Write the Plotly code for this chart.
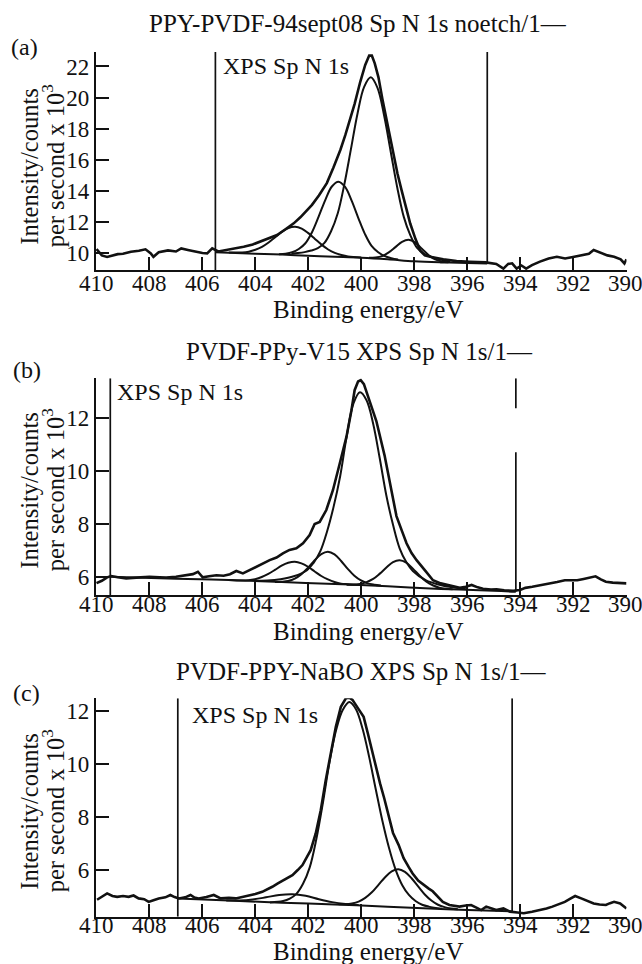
import plotly.graph_objects as go

FONT = "Liberation Serif, Times New Roman, serif"
BLACK = "#111111"

# ---------------- Panel (a) ----------------
a_raw_ev = [410.0, 409.8, 409.6, 409.4, 409.2, 409.0, 408.7, 408.4, 408.15, 407.95,
            407.85, 407.65, 407.3, 407.0, 406.8, 406.55, 406.3, 406.0, 405.82, 405.63,
            405.4, 405.07, 404.8, 404.44, 404.1, 403.81, 403.5, 403.18, 402.85, 402.55,
            402.3, 402.05, 401.86, 401.6, 401.3, 401.05, 400.79, 400.6, 400.42, 400.25,
            400.04, 399.85, 399.7, 399.6, 399.49, 399.35, 399.2, 398.94, 398.78, 398.63,
            398.47, 398.33, 398.15, 397.95, 397.77, 397.6, 397.4, 396.9, 396.4, 395.9,
            395.3, 394.9, 394.63, 394.45, 394.3, 394.13, 393.95, 393.77, 393.55, 393.25,
            392.92, 392.61, 392.3, 392.0, 391.68, 391.4, 391.22, 390.91, 390.7, 390.45,
            390.2, 390.06, 389.98]
a_raw_int = [10.25, 9.85, 9.75, 9.85, 9.93, 9.95, 10.08, 10.15, 10.24, 9.98,
             9.76, 10.05, 10.17, 10.1, 10.3, 10.2, 10.1, 10.0, 9.98, 10.3,
             10.1, 10.2, 10.3, 10.4, 10.55, 10.73, 10.95, 11.16, 11.55, 11.91,
             12.3, 12.77, 13.1, 13.7, 14.5, 15.5, 16.63, 17.6, 18.6, 19.6,
             21.0, 22.1, 22.7, 22.7, 22.2, 21.3, 19.9, 17.7, 16.3, 15.1,
             14.0, 13.0, 11.9, 10.9, 10.15, 9.85, 9.76, 9.6, 9.48, 9.44,
             9.4, 9.3, 9.0, 9.3, 9.34, 9.0, 9.2, 9.0, 9.22, 9.45,
             9.65, 9.76, 9.65, 9.75, 9.86, 9.95, 10.19, 9.97, 9.85, 9.76,
             9.6, 9.33, 9.6]
a_bg_ev = [405.5, 404.0, 403.0, 402.0, 401.0, 400.0, 399.0, 398.0, 397.0, 396.0, 395.24]
a_bg_int = [10.05, 9.96, 9.9, 9.82, 9.76, 9.7, 9.6, 9.47, 9.4, 9.36, 9.33]
a_c1_ev = [402.64, 402.39, 402.14, 401.89, 401.64, 401.39, 401.14, 400.89, 400.64, 400.39,
           400.14, 399.89, 399.64, 399.39, 399.14, 398.89, 398.64, 398.39, 398.14, 397.89,
           397.64, 397.39, 397.14, 396.89, 396.64]
a_c1_int = [9.96, 10.0, 10.06, 10.16, 10.31, 10.65, 11.4, 12.54, 14.41, 16.68,
            18.98, 20.69, 21.3, 20.64, 18.88, 16.55, 14.22, 12.31, 11.12, 10.33,
            9.97, 9.78, 9.64, 9.54, 9.47]
a_c2_ev = [403.11, 402.86, 402.61, 402.36, 402.11, 401.86, 401.61, 401.36, 401.11, 400.86,
           400.61, 400.36, 400.11, 399.86, 399.61, 399.36, 399.11, 398.86, 398.61]
a_c2_int = [9.93, 9.96, 10.05, 10.26, 10.63, 11.34, 12.34, 13.41, 14.28, 14.59,
            14.25, 13.35, 12.25, 11.22, 10.46, 10.05, 9.8, 9.67, 9.58]
a_c3_ev = [405.0, 404.5, 404.25, 404.0, 403.75, 403.5, 403.25, 403.0, 402.75, 402.5,
           402.25, 402.0, 401.75, 401.5, 401.25, 401.0, 400.75, 400.5, 400.0]
a_c3_int = [10.03, 10.04, 10.09, 10.21, 10.4, 10.68, 11.02, 11.36, 11.61, 11.69,
            11.57, 11.28, 10.91, 10.54, 10.23, 10.01, 9.87, 9.78, 9.71]
a_c4_ev = [399.71, 399.46, 399.21, 398.96, 398.71, 398.46, 398.21, 397.96, 397.71, 397.46,
           397.21, 396.96, 396.71]
a_c4_int = [9.69, 9.71, 9.8, 10.04, 10.38, 10.72, 10.85, 10.67, 10.28, 9.88,
            9.59, 9.46, 9.41]
a_mark_x = [405.51, 405.51, None, 395.24, 395.24]
a_mark_y = [8.91, 22.93, None, 9.35, 22.93]

# ---------------- Panel (b) ----------------
b_raw_ev = [410.0, 409.8, 409.6, 409.45, 409.2, 408.88, 408.5, 408.0, 407.62, 407.37,
            407.0, 406.74, 406.36, 406.17, 405.99, 405.75, 405.47, 405.2, 404.96, 404.72,
            404.47, 404.22, 403.96, 403.71, 403.46, 403.2, 402.96, 402.71, 402.45, 402.2,
            401.95, 401.76, 401.57, 401.32, 401.07, 400.81, 400.56, 400.37, 400.25, 400.12,
            400.02, 399.9, 399.7, 399.43, 399.12, 398.85, 398.67, 398.45, 398.29, 398.1,
            397.91, 397.6, 397.29, 397.0, 396.78, 396.5, 396.28, 396.05, 395.83, 395.6,
            395.4, 395.1, 394.89, 394.6, 394.26, 394.0, 393.8, 393.54, 393.2, 392.93,
            392.6, 392.31, 391.84, 391.6, 391.38, 391.15, 390.95, 390.76, 390.5, 390.3,
            389.98]
b_raw_int = [5.76, 5.85, 5.98, 6.03, 5.98, 5.94, 5.97, 6.0, 5.98, 5.97,
             6.0, 6.03, 6.1, 6.19, 5.98, 6.02, 6.06, 6.04, 6.1, 6.22,
             6.13, 6.25, 6.38, 6.53, 6.63, 6.73, 6.89, 7.02, 7.08, 7.27,
             7.58, 8.0, 8.08, 8.53, 9.28, 10.3, 11.3, 12.31, 13.07, 13.4,
             13.45, 13.3, 12.7, 11.9, 10.6, 9.2, 8.3, 7.7, 7.27, 6.9,
             6.63, 6.25, 5.87, 5.75, 5.69, 5.62, 5.58, 5.62, 5.69, 5.6,
             5.55, 5.52, 5.53, 5.49, 5.47, 5.5, 5.58, 5.62, 5.68, 5.75,
             5.8, 5.87, 5.87, 5.92, 5.97, 6.02, 5.9, 5.81, 5.78, 5.77,
             5.75]
b_bg_ev = [409.48, 407.0, 405.0, 403.0, 401.0, 399.0, 397.0, 395.0, 394.16]
b_bg_int = [6.0, 5.93, 5.88, 5.8, 5.73, 5.64, 5.54, 5.47, 5.43]
b_c1_ev = [404.05, 403.55, 403.05, 402.55, 402.05, 401.8, 401.55, 401.3, 401.05, 400.8,
           400.55, 400.3, 400.05, 399.8, 399.55, 399.3, 399.05, 398.8, 398.55, 398.3,
           398.05, 397.55, 397.05, 396.55, 396.05]
b_c1_int = [5.85, 5.86, 5.91, 6.02, 6.25, 6.53, 6.96, 7.69, 8.63, 9.79,
            11.32, 12.55, 12.99, 12.69, 11.8, 10.48, 9.07, 7.97, 7.08, 6.56,
            6.22, 5.86, 5.7, 5.6, 5.54]
b_c2_ev = [403.26, 403.01, 402.76, 402.51, 402.26, 402.01, 401.76, 401.51, 401.26, 401.01,
           400.76, 400.51, 400.26, 400.01, 399.76, 399.51, 399.26]
b_c2_int = [5.8, 5.81, 5.84, 5.93, 6.1, 6.34, 6.63, 6.86, 6.95, 6.85,
            6.6, 6.3, 6.04, 5.86, 5.75, 5.7, 5.67]
b_c3_ev = [405.01, 404.51, 404.26, 404.01, 403.76, 403.51, 403.26, 403.01, 402.76, 402.51,
           402.26, 402.01, 401.76, 401.51, 401.26, 401.01, 400.76, 400.51, 400.01]
b_c3_int = [5.88, 5.86, 5.87, 5.91, 5.99, 6.11, 6.26, 6.42, 6.53, 6.57,
            6.51, 6.38, 6.2, 6.03, 5.9, 5.8, 5.74, 5.72, 5.69]
b_c4_ev = [400.55, 400.3, 400.05, 399.8, 399.55, 399.3, 399.05, 398.8, 398.55, 398.3,
           398.05, 397.8, 397.55, 397.3, 397.05, 396.8, 396.55]
b_c4_int = [5.7, 5.7, 5.73, 5.8, 5.92, 6.12, 6.35, 6.56, 6.63, 6.54,
            6.31, 6.05, 5.82, 5.68, 5.59, 5.55, 5.53]
b_mark_x = [409.48, 409.48, None, 394.16, 394.16, None, 394.16, 394.16]
b_mark_y = [5.31, 13.52, None, 13.52, 12.39, None, 10.72, 5.43]

# ---------------- Panel (c) ----------------
c_raw_ev = [409.98, 409.8, 409.6, 409.4, 409.22, 409.0, 408.79, 408.6, 408.41, 408.2,
            408.03, 407.85, 407.65, 407.4, 407.21, 407.05, 406.89, 406.65, 406.45, 406.3,
            406.14, 405.85, 405.57, 405.31, 405.0, 404.74, 404.5, 404.24, 404.0, 403.74,
            403.55, 403.36, 403.15, 402.92, 402.6, 402.4, 402.22, 402.05, 401.91, 401.72,
            401.53, 401.34, 401.15, 400.96, 400.77, 400.58, 400.45, 400.33, 400.12, 399.91,
            399.75, 399.6, 399.45, 399.29, 399.13, 398.98, 398.8, 398.59, 398.4, 398.2,
            398.06, 397.85, 397.6, 397.45, 397.3, 397.1, 396.92, 396.67, 396.45, 396.29,
            396.05, 395.85, 395.65, 395.47, 395.28, 395.1, 394.9, 394.63, 394.38, 394.1,
            393.86, 393.55, 393.24, 393.0, 392.78, 392.55, 392.31, 392.1, 391.92, 391.69,
            391.45, 391.22, 391.0, 390.76, 390.6, 390.45, 390.22, 389.98]
c_raw_int = [4.88, 5.0, 5.12, 5.02, 4.99, 5.02, 4.99, 5.04, 4.93, 4.9,
             4.8, 4.86, 4.93, 4.97, 5.06, 4.98, 4.93, 4.97, 5.06, 4.96,
             4.93, 4.98, 5.06, 4.93, 4.95, 4.93, 4.98, 5.06, 5.1, 5.18,
             5.27, 5.37, 5.5, 5.62, 5.81, 6.0, 6.19, 6.5, 6.75, 7.38,
             8.26, 9.4, 10.4, 11.41, 12.16, 12.48, 12.5, 12.42, 12.1, 11.78,
             11.15, 10.53, 9.9, 9.27, 8.7, 8.14, 7.4, 6.95, 6.45, 6.1,
             5.87, 5.6, 5.4, 5.3, 5.2, 5.0, 4.8, 4.68, 4.64, 4.62,
             4.66, 4.68, 4.58, 4.49, 4.62, 4.55, 4.49, 4.55, 4.43, 4.4,
             4.37, 4.43, 4.49, 4.55, 4.62, 4.7, 4.8, 4.92, 5.02, 4.93,
             4.82, 4.74, 4.7, 4.68, 4.75, 4.8, 4.74, 4.55]
c_bg_ev = [406.93, 405.0, 403.0, 401.0, 399.0, 397.0, 395.0, 394.3]
c_bg_int = [4.93, 4.85, 4.77, 4.7, 4.62, 4.53, 4.46, 4.44]
c_c1_ev = [403.45, 402.95, 402.7, 402.45, 402.2, 401.95, 401.7, 401.45, 401.2, 400.95,
           400.7, 400.45, 400.2, 399.95, 399.7, 399.45, 399.2, 398.95, 398.7, 398.45,
           398.2, 397.95, 397.7, 397.45, 396.95]
c_c1_int = [4.78, 4.83, 4.92, 5.1, 5.48, 6.09, 7.15, 8.53, 10.06, 11.28,
            12.04, 12.34, 12.07, 11.33, 10.26, 9.04, 7.85, 6.83, 6.01, 5.43,
            5.06, 4.83, 4.69, 4.62, 4.54]
c_c2_ev = [405.1, 404.6, 404.1, 403.6, 403.1, 402.6, 402.1, 401.6, 401.1, 400.6, 400.1]
c_c2_int = [4.85, 4.85, 4.89, 4.97, 5.06, 5.09, 5.03, 4.9, 4.79, 4.72, 4.68]
c_c3_ev = [400.85, 400.6, 400.35, 400.1, 399.85, 399.6, 399.35, 399.1, 398.85, 398.6,
           398.35, 398.1, 397.85, 397.6, 397.35, 397.1, 396.85, 396.6, 396.35]
c_c3_int = [4.71, 4.71, 4.74, 4.81, 4.95, 5.16, 5.44, 5.73, 5.95, 6.03,
            5.93, 5.69, 5.38, 5.08, 4.85, 4.69, 4.6, 4.55, 4.52]
c_mark_x = [406.93, 406.93, None, 394.3, 394.3]
c_mark_y = [4.24, 12.48, None, 4.4, 12.48]

titles = ["PPY-PVDF-94sept08 Sp N 1s noetch/1\u2014",
          "PVDF-PPy-V15 XPS Sp N 1s/1\u2014",
          "PVDF-PPY-NaBO XPS Sp N 1s/1\u2014"]
panel_labels = ["(a)", "(b)", "(c)"]
inner_label = "XPS Sp N 1s"
x_title = "Binding energy/eV"
y_title_1 = "Intensity/counts"
y_title_2 = "per second x 10<sup>3</sup>"
x_ticks = [410, 408, 406, 404, 402, 400, 398, 396, 394, 392, 390]
y_ticks_a = [10, 12, 14, 16, 18, 20, 22]
y_ticks_b = [6, 8, 10, 12]
y_ticks_c = [6, 8, 10, 12]

panels = [
    dict(raw=(a_raw_ev, a_raw_int), bg=(a_bg_ev, a_bg_int),
         comps=[(a_c1_ev, a_c1_int), (a_c2_ev, a_c2_int), (a_c3_ev, a_c3_int), (a_c4_ev, a_c4_int)],
         mark=(a_mark_x, a_mark_y), yr=[8.91, 22.93], yt=y_ticks_a,
         ydom=[1 - 270 / 964, 1 - 52 / 964]),
    dict(raw=(b_raw_ev, b_raw_int), bg=(b_bg_ev, b_bg_int),
         comps=[(b_c1_ev, b_c1_int), (b_c2_ev, b_c2_int), (b_c3_ev, b_c3_int), (b_c4_ev, b_c4_int)],
         mark=(b_mark_x, b_mark_y), yr=[5.31, 13.52], yt=y_ticks_b,
         ydom=[1 - 595 / 964, 1 - 378.3 / 964]),
    dict(raw=(c_raw_ev, c_raw_int), bg=(c_bg_ev, c_bg_int),
         comps=[(c_c1_ev, c_c1_int), (c_c2_ev, c_c2_int), (c_c3_ev, c_c3_int)],
         mark=(c_mark_x, c_mark_y), yr=[4.24, 12.48], yt=y_ticks_c,
         ydom=[1 - 916.7 / 964, 1 - 698.3 / 964]),
]

fig = go.Figure()
layout = dict(template="none", width=642, height=964,
              margin=dict(l=0, r=0, t=0, b=0, pad=0, autoexpand=False),
              paper_bgcolor="white", plot_bgcolor="white", showlegend=False,
              font=dict(family=FONT, color=BLACK))
XDOM = [96 / 642, 626.5 / 642]

annotations = []
for i, p in enumerate(panels):
    n = "" if i == 0 else str(i + 1)
    xa, ya = "x" + n, "y" + n
    line = dict(color=BLACK, width=2.0)
    fig.add_trace(go.Scatter(x=p["mark"][0], y=p["mark"][1], mode="lines",
                             line=dict(color=BLACK, width=1.7), xaxis=xa, yaxis=ya,
                             connectgaps=False, hoverinfo="skip"))
    fig.add_trace(go.Scatter(x=p["bg"][0], y=p["bg"][1], mode="lines", line=line,
                             xaxis=xa, yaxis=ya, line_shape="spline"))
    for cx, cy in p["comps"]:
        fig.add_trace(go.Scatter(x=cx, y=cy, mode="lines", line=line,
                                 xaxis=xa, yaxis=ya, line_shape="spline"))
    fig.add_trace(go.Scatter(x=p["raw"][0], y=p["raw"][1], mode="lines",
                             line=dict(color=BLACK, width=2.6), xaxis=xa, yaxis=ya))

    layout["xaxis" + n] = dict(domain=XDOM, anchor=ya, range=[410.02, 389.98],
                               tickvals=x_ticks, showticklabels=False, automargin=False,
                               ticks="inside", ticklen=13, tickwidth=1.6, tickcolor=BLACK,
                               showline=True, linecolor=BLACK, linewidth=2.2,
                               showgrid=False, zeroline=False)
    layout["yaxis" + n] = dict(domain=p["ydom"], anchor=xa, range=p["yr"], automargin=False,
                               tickvals=p["yt"], ticktext=[str(t) for t in p["yt"]],
                               ticks="inside", ticklen=13, tickwidth=1.6, tickcolor=BLACK,
                               showline=True, linecolor=BLACK, linewidth=2.2,
                               showgrid=False, zeroline=False,
                               tickfont=dict(family=FONT, size=23, color=BLACK))

# text positions (pixels)
title_pos = [(358, 23.3), (360, 351.7), (362, 671.7)]
plabel_pos = [(24.6, 46.7), (26.6, 370), (26.6, 693)]
inner_pos = [(221, 66.5), (115, 392), (190, 715)]
xt_pos = [(367.5, 310), (367.5, 631.7), (367.5, 951.7)]
xtick_y = [283, 604, 925.5]
yt_y = [166, 490, 811]

def ann(text, px, py, size=23, xanchor="center", angle=0):
    return dict(text=text, x=px / 642, y=1 - py / 964, xref="paper", yref="paper",
                xanchor=xanchor, yanchor="middle", showarrow=False, textangle=angle,
                font=dict(family=FONT, size=size, color=BLACK))

for i in range(3):
    n = "" if i == 0 else str(i + 1)
    annotations.append(ann(titles[i], *title_pos[i], size=25))
    annotations.append(ann(panel_labels[i], *plabel_pos[i], size=24))
    annotations.append(ann(inner_label, *inner_pos[i], size=24, xanchor="left"))
    annotations.append(ann(x_title, *xt_pos[i], size=25))
    annotations.append(ann(y_title_1, 28.7, yt_y[i], size=24.5, angle=-90))
    annotations.append(ann(y_title_2, 53.3, yt_y[i], size=24.5, angle=-90))
    for t in x_ticks:
        annotations.append(dict(text=str(t), x=t, xref="x" + n, y=1 - xtick_y[i] / 964,
                                yref="paper", xanchor="center", yanchor="middle",
                                showarrow=False,
                                font=dict(family=FONT, size=23, color=BLACK)))

layout["annotations"] = annotations
fig.update_layout(**layout)
fig.write_html("out.html")
